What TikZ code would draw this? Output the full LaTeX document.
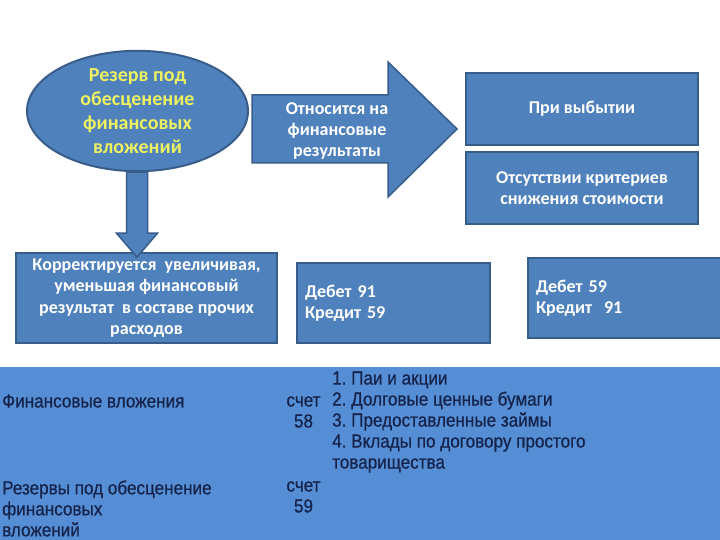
\documentclass[tikz,border=0pt]{standalone}
\usepackage{fontspec}
\setmainfont{Carlito}
\newfontfamily\bandfont[FakeStretch=0.9,FakeBold=0.6]{Liberation Sans}
\usetikzlibrary{shapes.geometric}
\frenchspacing

\definecolor{boxblue}{HTML}{4F81BD}
\definecolor{edgeblue}{HTML}{385D8A}
\definecolor{bandblue}{HTML}{558ED5}
\definecolor{navytext}{HTML}{15224A}
\definecolor{yellowtext}{HTML}{EEF25E}

\tikzset{
  bluebox/.style={draw=edgeblue, line width=2pt, fill=boxblue, text=white,
    font=\bfseries\fontsize{18}{21.5}\selectfont, align=center, inner sep=0pt},
  blockarrow/.style={draw=edgeblue, line width=1.5pt, fill=boxblue, line join=miter},
  bandtext/.style={text=navytext, font=\bandfont\fontsize{19}{21}\selectfont, inner sep=0pt}
}

\begin{document}
\begin{tikzpicture}[x=1pt, y=-1pt]
  \useasboundingbox (0,0) rectangle (720,540);
  \clip (0,0) rectangle (720,540);
  \fill[white] (0,0) rectangle (720,540);

  % Reserve ellipse
  \node[ellipse, draw=edgeblue, line width=2pt, fill=boxblue, minimum width=221pt, minimum height=112pt,
        inner sep=0pt, text=yellowtext, font=\bfseries\fontsize{20}{24}\selectfont, align=center]
        (reserve) at (137.5,111) {Резерв под\\обесценение\\финансовых\\вложений};

  % Boxes on the right
  \node[bluebox, minimum width=232pt, minimum height=72pt] (disposal) at (582,109) {При выбытии};
  \node[bluebox, minimum width=232pt, minimum height=72pt] (nocriteria) at (582,188)
        {Отсутствии критериев\\снижения стоимости};

  % Lower boxes
  \node[bluebox, minimum width=261pt, minimum height=90pt] (adjust) at (146.5,298)
        {Корректируется~~увеличивая,\\уменьшая финансовый\\результат~~в составе прочих\\расходов};
  \node[bluebox, minimum width=193pt, minimum height=80pt, text width=177pt, align=left] (entry91) at (393.5,303)
        {Дебет 91\\Кредит 59};
  \node[bluebox, minimum width=202pt, minimum height=80pt, text width=186pt, align=left] (entry59) at (629,298)
        {Дебет 59\\Кредит~~91};

  % Arrow down
  \draw[blockarrow] (reserve.south) ++(-11,0) -- ++(21,0) -- ++(0,61) -- ++(10,0)
        -- ++(-20.5,24) coordinate (downtip) -- ++(-20.5,-24) -- ++(10,0) -- cycle;

  % Arrow right
  \draw[blockarrow] (252,95) -- (388,95) -- (388,62) -- (457,129) -- (388,197) -- (388,163) -- (252,163) -- cycle;
  \node[text=white, font=\bfseries\fontsize{18}{21}\selectfont, align=center, inner sep=0pt] (refer) at (337,131)
        {Относится на\\финансовые\\результаты};

  % Bottom band
  \fill[bandblue] (0,367) rectangle (720,540);
  \node[bandtext, anchor=west] (finlabel) at (2,401) {Финансовые вложения};
  \node[bandtext, align=center] (acct58) at (303.5,412) {счет\\58};
  \node[bandtext, anchor=west, align=left] (items) at (332,422)
        {1. Паи и акции\\2. Долговые ценные бумаги\\3. Предоставленные займы\\4. Вклады по договору простого\\товарищества};
  \node[bandtext, anchor=west, align=left] (reslabel) at (2,508.5) {Резервы под обесценение\\финансовых\\вложений};
  \node[bandtext, align=center] (acct59) at (303.5,497) {счет\\59};
\end{tikzpicture}
\end{document}
